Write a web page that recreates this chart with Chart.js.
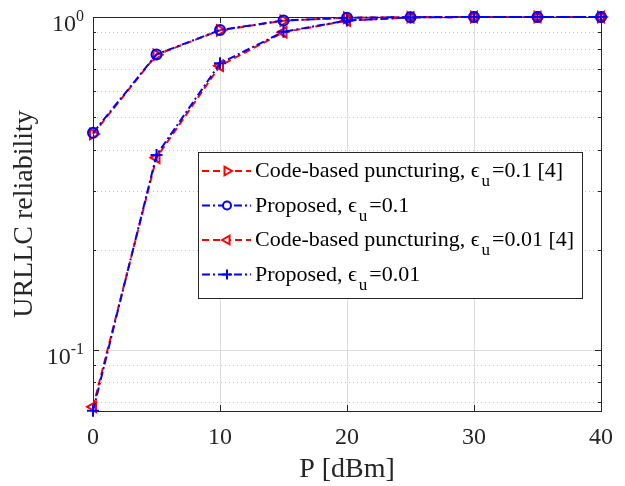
<!DOCTYPE html>
<html>
<head>
<meta charset="utf-8"/>
<title>URLLC reliability</title>
<script src="https://cdn.jsdelivr.net/npm/chart.js@4.4.1/dist/chart.umd.min.js"></script>
<style>
  body { margin: 0; background: #fff; }
  #wrap { width: 625px; height: 486px; }
</style>
</head>
<body>
<div id="wrap"><canvas id="chart"></canvas></div>
<script>
// data
const powerDbm = [0, 5, 10, 15, 20, 25, 30, 35, 40];
const codeEps01 = [0.445, 0.77, 0.912, 0.975, 0.995, 0.999, 1, 1, 1];
const propEps01 = [0.449, 0.772, 0.914, 0.976, 0.995, 0.999, 1, 1, 1];
const codeEps001 = [0.0675, 0.378, 0.714, 0.9, 0.975, 0.997, 1, 1, 1];
const propEps001 = [0.0657, 0.385, 0.726, 0.903, 0.976, 0.997, 1, 1, 1];

// legend text: [before subscript, subscript, after]
const labelCode01 = ['Code-based puncturing, \u03f5', 'u', '=0.1 [4]'];
const labelProp01 = ['Proposed, \u03f5', 'u', '=0.1'];
const labelCode001 = ['Code-based puncturing, \u03f5', 'u', '=0.01 [4]'];
const labelProp001 = ['Proposed, \u03f5', 'u', '=0.01'];

const yMajorTicks = [0.1, 1];
const yMajorLabels = [['10', '-1'], ['10', '0']];
const yMinorTicks = [0.07, 0.08, 0.09, 0.2, 0.3, 0.4, 0.5, 0.6, 0.7, 0.8, 0.9];

const FONT = "'Liberation Serif', 'Times New Roman', serif";
const AXIS = '#262626';
const RED = '#ff0000';
const BLUE = '#0000ff';

function series(label, data, color, dash, style, rot, order) {
  return {
    label: label.join(''),
    parts: label,
    data: data,
    borderColor: color,
    borderWidth: 2,
    borderDash: dash,
    pointStyle: style,
    rotation: rot,
    pointRadius: style === 'circle' ? 5 : 6,
    pointBorderWidth: 2,
    pointBorderColor: color,
    pointBackgroundColor: 'rgba(0,0,0,0)',
    fill: false,
    tension: 0,
    clip: false,
    order: order
  };
}

// grid, box and inward ticks like a MATLAB axes
const axesPlugin = {
  id: 'axesPlugin',
  beforeDatasetsDraw(chart) {
    const ctx = chart.ctx;
    const a = chart.chartArea;
    const xs = chart.scales.x, ys = chart.scales.y;
    ctx.save();
    // minor y grid (dotted)
    ctx.strokeStyle = '#c4c4c4';
    ctx.lineWidth = 1;
    ctx.setLineDash([1, 3]);
    yMinorTicks.forEach(v => {
      const y = Math.round(ys.getPixelForValue(v)) + 0.5;
      ctx.beginPath(); ctx.moveTo(a.left, y); ctx.lineTo(a.right, y); ctx.stroke();
    });
    // major grid (solid)
    ctx.setLineDash([]);
    ctx.strokeStyle = '#dedede';
    yMajorTicks.forEach(v => {
      const y = Math.round(ys.getPixelForValue(v)) + 0.5;
      ctx.beginPath(); ctx.moveTo(a.left, y); ctx.lineTo(a.right, y); ctx.stroke();
    });
    xs.ticks.forEach(t => {
      const x = Math.round(xs.getPixelForValue(t.value)) + 0.5;
      ctx.beginPath(); ctx.moveTo(x, a.top); ctx.lineTo(x, a.bottom); ctx.stroke();
    });
    // box
    ctx.strokeStyle = AXIS;
    ctx.strokeRect(Math.round(a.left) + 0.5, Math.round(a.top) + 0.5,
      Math.round(a.right - a.left), Math.round(a.bottom - a.top));
    // tick marks inward
    ctx.beginPath();
    yMajorTicks.concat(yMinorTicks).forEach(v => {
      const y = Math.round(ys.getPixelForValue(v)) + 0.5;
      const len = yMajorTicks.includes(v) ? 6 : 3;
      ctx.moveTo(a.left, y); ctx.lineTo(a.left + len, y);
      ctx.moveTo(a.right, y); ctx.lineTo(a.right - len, y);
    });
    xs.ticks.forEach(t => {
      const x = Math.round(xs.getPixelForValue(t.value)) + 0.5;
      ctx.moveTo(x, a.bottom); ctx.lineTo(x, a.bottom - 6);
      ctx.moveTo(x, a.top); ctx.lineTo(x, a.top + 6);
    });
    ctx.stroke();
    // y tick labels with superscript exponent
    ctx.fillStyle = AXIS;
    ctx.textBaseline = 'alphabetic';
    yMajorTicks.forEach((v, i) => {
      const y = ys.getPixelForValue(v);
      const [base, exp] = yMajorLabels[i];
      ctx.font = '16px ' + FONT;
      const ew = ctx.measureText(exp).width;
      ctx.textAlign = 'right';
      ctx.fillText(exp, 84, y + 4);
      ctx.font = '24px ' + FONT;
      ctx.fillText(base, 84 - ew, y + 14);
    });
    ctx.restore();
  },
  afterDraw(chart) {
    // legend box
    const ctx = chart.ctx;
    const bx = 198, by = 152, bw = 384, bh = 146;
    ctx.save();
    ctx.fillStyle = '#fff';
    ctx.fillRect(bx, by, bw, bh);
    ctx.strokeStyle = AXIS;
    ctx.lineWidth = 1;
    ctx.strokeRect(bx + 0.5, by + 0.5, bw, bh);
    chart.data.datasets.forEach((ds, i) => {
      const y = 171 + i * 34.5;
      ctx.strokeStyle = ds.borderColor;
      ctx.lineWidth = 2;
      ctx.setLineDash(ds.borderDash);
      ctx.beginPath(); ctx.moveTo(202, y); ctx.lineTo(251, y); ctx.stroke();
      ctx.setLineDash([]);
      ctx.fillStyle = '#fff';
      Chart.helpers.drawPoint(ctx, {
        pointStyle: ds.pointStyle, rotation: ds.rotation,
        radius: ds.pointRadius - 1, borderWidth: 2
      }, 227, y);
      const [pre, sub, post] = ds.parts;
      ctx.fillStyle = '#000';
      ctx.textAlign = 'left';
      ctx.textBaseline = 'alphabetic';
      ctx.font = '22px ' + FONT;
      let x = 255;
      ctx.fillText(pre, x, y + 6);
      x += ctx.measureText(pre).width + 2;
      ctx.font = '17px ' + FONT;
      ctx.fillText(sub, x, y + 15);
      x += ctx.measureText(sub).width + 2;
      ctx.font = '22px ' + FONT;
      ctx.fillText(post, x, y + 6);
    });
    ctx.restore();
  }
};

const ctx = document.getElementById('chart').getContext('2d');
new Chart(ctx, {
  type: 'line',
  data: {
    labels: powerDbm,
    datasets: [
      series(labelCode01, codeEps01, RED, [7, 4], 'triangle', 90, 2),
      series(labelProp01, propEps01, BLUE, [8, 3, 2, 3], 'circle', 0, 1),
      series(labelCode001, codeEps001, RED, [7, 4], 'triangle', -90, 2),
      series(labelProp001, propEps001, BLUE, [8, 3, 2, 3], 'cross', 0, 1)
    ]
  },
  options: {
    responsive: true,
    maintainAspectRatio: false,
    animation: false,
    devicePixelRatio: 1,
    layout: { padding: { top: 17, right: 14, left: 0, bottom: 0 } },
    plugins: { legend: { display: false }, tooltip: { enabled: false } },
    scales: {
      x: {
        type: 'linear',
        min: 0,
        max: 40,
        ticks: { stepSize: 10, font: { family: FONT, size: 24 }, color: AXIS, padding: 12, maxRotation: 0 },
        grid: { display: false, drawTicks: false },
        border: { display: false },
        title: { display: true, text: 'P [dBm]', font: { family: FONT, size: 28 }, color: AXIS, padding: { top: 0, bottom: 0 } },
        afterFit: s => { s.height = 75; }
      },
      y: {
        type: 'logarithmic',
        min: 0.0656,
        max: 1,
        ticks: { display: false },
        grid: { display: false, drawTicks: false },
        border: { display: false },
        title: { display: true, text: 'URLLC reliability', font: { family: FONT, size: 28 }, color: AXIS, padding: { top: 8, bottom: 0 } },
        afterFit: s => { s.width = 93; }
      }
    }
  },
  plugins: [axesPlugin]
});
</script>
</body>
</html>
